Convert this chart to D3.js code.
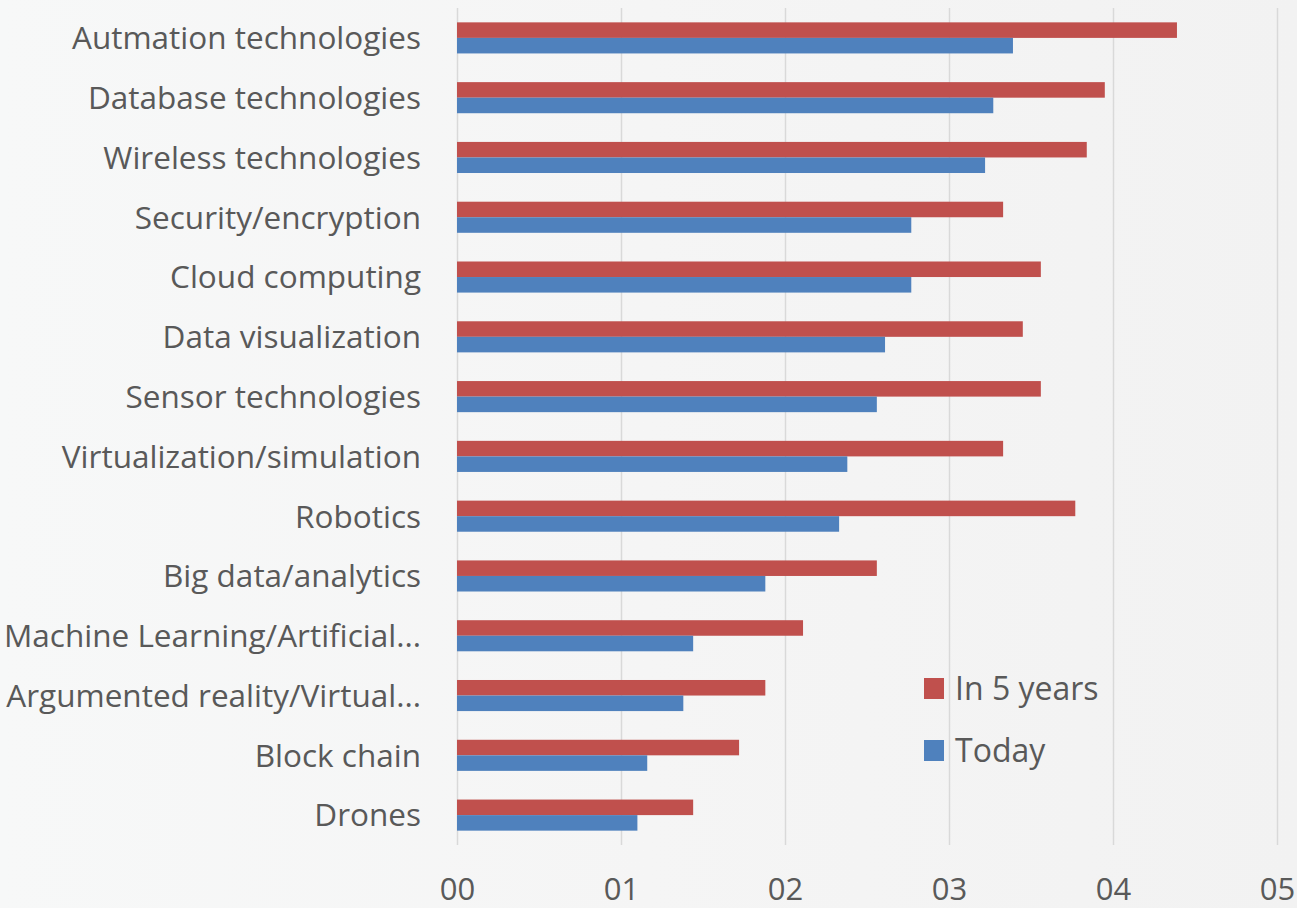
<!DOCTYPE html>
<html>
<head>
<meta charset="utf-8">
<script src="https://cdn.jsdelivr.net/npm/d3@7"></script>
<style>
  html, body { margin: 0; padding: 0; background: #f5f5f5; }
  svg { display: block; }
  text { font-family: "Open Sans", sans-serif; fill: #595959; }
</style>
</head>
<body>
<svg id="chart" width="1297" height="908"></svg>
<script>
const categories = [
  "Autmation technologies",
  "Database technologies",
  "Wireless technologies",
  "Security/encryption",
  "Cloud computing",
  "Data visualization",
  "Sensor technologies",
  "Virtualization/simulation",
  "Robotics",
  "Big data/analytics",
  "Machine Learning/Artificial...",
  "Argumented reality/Virtual...",
  "Block chain",
  "Drones"
];
const in5Years = [4.39, 3.95, 3.84, 3.33, 3.56, 3.45, 3.56, 3.33, 3.77, 2.56, 2.11, 1.88, 1.72, 1.44];
const today    = [3.39, 3.27, 3.22, 2.77, 2.77, 2.61, 2.56, 2.38, 2.33, 1.88, 1.44, 1.38, 1.16, 1.10];
const seriesNames = ["In 5 years", "Today"];
const tickValues = [0, 1, 2, 3, 4, 5];
const tickLabels = ["00", "01", "02", "03", "04", "05"];

const colors = { "In 5 years": "#C0504D", "Today": "#4F81BD" };

const svg = d3.select("#chart");
const W = 1297, H = 908;

// background
const defs = svg.append("defs");
const grad = defs.append("linearGradient").attr("id", "bg").attr("x1", 0).attr("x2", 1).attr("y1", 0).attr("y2", 0);
grad.append("stop").attr("offset", "0%").attr("stop-color", "#f7f8f8");
grad.append("stop").attr("offset", "50%").attr("stop-color", "#f5f5f5");
grad.append("stop").attr("offset", "100%").attr("stop-color", "#f2f2f2");
svg.append("rect").attr("width", W).attr("height", H).attr("fill", "url(#bg)");

const x0 = 457, x1 = 1277, yTop = 8, yBot = 845;
const x = d3.scaleLinear().domain([0, 5]).range([x0, x1]);
const y = d3.scaleBand().domain(categories).range([yTop, yBot]).paddingInner(0.48).paddingOuter(0.24);
const ySub = d3.scaleBand().domain(seriesNames).range([0, y.bandwidth()]);

// gridlines
const grid = svg.append("g").attr("transform", `translate(0,${yBot})`)
  .call(d3.axisBottom(x).tickValues(tickValues).tickSize(-(yBot - yTop)).tickFormat(""));
grid.select(".domain").remove();
grid.selectAll("line").attr("stroke", "#d9d9d9").attr("stroke-width", 1.5);

// tick labels
const axis = svg.append("g").attr("transform", `translate(0,${yBot})`)
  .call(d3.axisBottom(x).tickValues(tickValues).tickSize(0).tickPadding(0)
    .tickFormat((d, i) => tickLabels[i]));
axis.select(".domain").remove();
axis.selectAll("text")
  .attr("dy", null)
  .attr("y", 55)
  .style("font-size", "31px")
  .style("font-family", "'Open Sans', sans-serif")
  .attr("fill", "#595959");

// bars
const data = categories.map((c, i) => ({ cat: c, vals: [
  { s: "In 5 years", v: in5Years[i] },
  { s: "Today", v: today[i] }
]}));

const groups = svg.append("g").selectAll("g").data(data).join("g")
  .attr("transform", d => `translate(0,${y(d.cat)})`);
groups.selectAll("rect").data(d => d.vals).join("rect")
  .attr("x", x(0))
  .attr("y", d => ySub(d.s))
  .attr("width", d => x(d.v) - x(0))
  .attr("height", ySub.bandwidth())
  .attr("fill", d => colors[d.s]);

// category labels
svg.append("g").selectAll("text").data(categories).join("text")
  .attr("x", 421)
  .attr("y", d => y(d) + y.bandwidth() / 2)
  .attr("dy", "0.36em")
  .attr("text-anchor", "end")
  .style("font-size", "31.5px")
  .text(d => d);

// legend
const legend = svg.append("g");
const legY = [678, 740];
seriesNames.forEach((s, i) => {
  legend.append("rect").attr("x", 924).attr("y", legY[i]).attr("width", 20).attr("height", 21)
    .attr("fill", colors[s]);
  legend.append("text").attr("x", 955).attr("y", legY[i] + 22).style("font-size", "32px").text(s);
});
</script>
</body>
</html>
